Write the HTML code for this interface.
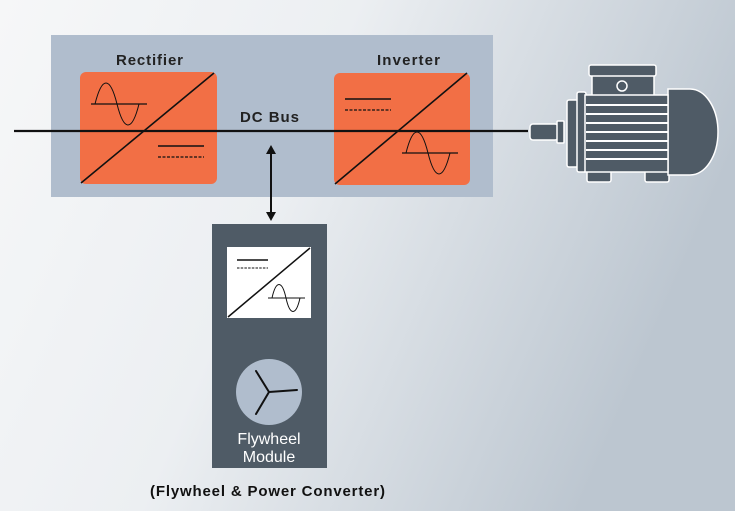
<!DOCTYPE html>
<html><head><style>
body{margin:0}
svg{display:block;font-family:"Liberation Sans",sans-serif;font-weight:bold}
</style></head><body>
<svg width="735" height="511" viewBox="0 0 735 511" xmlns="http://www.w3.org/2000/svg">
<defs>
<linearGradient id="bg" x1="0" y1="0" x2="1" y2="0.3">
<stop offset="0" stop-color="#f6f7f8"/><stop offset="0.45" stop-color="#eceff2"/><stop offset="1" stop-color="#bcc6d0"/>
</linearGradient>
</defs>
<rect width="735" height="511" fill="url(#bg)"/>
<rect x="51" y="35" width="442" height="162" fill="#b0bdcd"/>
<text x="116" y="65" font-size="15" fill="#222" textLength="67">Rectifier</text>
<text x="377" y="65" font-size="15" fill="#222" textLength="63">Inverter</text>
<text x="240" y="122" font-size="15" fill="#222" textLength="59">DC Bus</text>
<!-- rectifier -->
<rect x="80" y="72" width="137" height="112" rx="6" fill="#f26f45"/>
<line x1="81" y1="183" x2="214" y2="73" stroke="#111" stroke-width="1.6"/>
<line x1="91" y1="104" x2="147" y2="104" stroke="#111" stroke-width="1.3"/>
<path d="M95 104 C102 76,110 76,117 104 S132 132,139 104" fill="none" stroke="#111" stroke-width="1"/>
<line x1="158" y1="146" x2="204" y2="146" stroke="#111" stroke-width="1.6"/>
<line x1="158" y1="157" x2="204" y2="157" stroke="#111" stroke-width="1.2" stroke-dasharray="3,1.5"/>
<!-- inverter -->
<rect x="334" y="73" width="136" height="112" rx="6" fill="#f26f45"/>
<line x1="335" y1="184" x2="467" y2="73" stroke="#111" stroke-width="1.6"/>
<line x1="345" y1="99" x2="391" y2="99" stroke="#111" stroke-width="1.6"/>
<line x1="345" y1="110" x2="391" y2="110" stroke="#111" stroke-width="1.2" stroke-dasharray="3,1.5"/>
<line x1="402" y1="153" x2="458" y2="153" stroke="#111" stroke-width="1.3"/>
<path d="M406 153 C413 125,421 125,428 153 S443 181,450 153" fill="none" stroke="#111" stroke-width="1"/>
<!-- bus -->
<line x1="14" y1="131" x2="528" y2="131" stroke="#111" stroke-width="2.2"/>
<!-- arrow -->
<line x1="271" y1="150" x2="271" y2="214" stroke="#111" stroke-width="2"/>
<polygon points="271,145 266,154 276,154" fill="#111"/>
<polygon points="271,221 266,212 276,212" fill="#111"/>
<!-- flywheel module -->
<rect x="212" y="224" width="115" height="244" fill="#4f5b66"/>
<rect x="227" y="247" width="84" height="71" fill="#fff"/>
<line x1="228" y1="317" x2="310" y2="248" stroke="#111" stroke-width="1.5"/>
<line x1="237" y1="260" x2="268" y2="260" stroke="#111" stroke-width="1.5"/>
<line x1="237" y1="268" x2="268" y2="268" stroke="#111" stroke-width="1.1" stroke-dasharray="2.5,1.2"/>
<line x1="268" y1="298" x2="305" y2="298" stroke="#111" stroke-width="1.1"/>
<path d="M272 298 C276 280,282 280,286 298 S296 316,300 298" fill="none" stroke="#111" stroke-width="1"/>
<circle cx="269" cy="392" r="33" fill="#b0bdcd"/>
<path d="M269 392 L256 371 M269 392 L297 390 M269 392 L256 414" stroke="#111" stroke-width="2" fill="none" stroke-linecap="round"/>
<text x="269" y="444" font-size="16" text-anchor="middle" fill="#fff" font-weight="normal">Flywheel</text>
<text x="269" y="462" font-size="16" text-anchor="middle" fill="#fff" font-weight="normal">Module</text>
<text x="150" y="496" font-size="15" fill="#111" textLength="235">(Flywheel &amp; Power Converter)</text>
<!-- motor -->
<g fill="#4f5b66" stroke="#fff" stroke-width="1.5">
<rect x="530" y="124" width="28" height="16" rx="3"/>
<rect x="557" y="121" width="7" height="22" rx="1"/>
<rect x="567" y="100" width="11" height="67" rx="2"/>
<rect x="577" y="92" width="9" height="80" rx="2"/>
<rect x="592" y="71" width="62" height="26"/>
<rect x="589" y="65" width="67" height="11" rx="2"/>
<rect x="587" y="166" width="24" height="16" rx="2"/>
<rect x="645" y="166" width="24" height="16" rx="2"/>
<path d="M668 89 H690 A28 43 0 0 1 690 175 H668 Z"/>
<rect x="585" y="95" width="83" height="77"/>
</g>
<circle cx="622" cy="86" r="5" fill="none" stroke="#fff" stroke-width="1.5"/>
<g stroke="#fff" stroke-width="2">
<line x1="586" y1="105" x2="668" y2="105"/><line x1="586" y1="114" x2="668" y2="114"/>
<line x1="586" y1="123" x2="668" y2="123"/><line x1="586" y1="132" x2="668" y2="132"/>
<line x1="586" y1="141" x2="668" y2="141"/><line x1="586" y1="150" x2="668" y2="150"/>
<line x1="586" y1="159" x2="668" y2="159"/>
</g>
</svg>
</body></html>
